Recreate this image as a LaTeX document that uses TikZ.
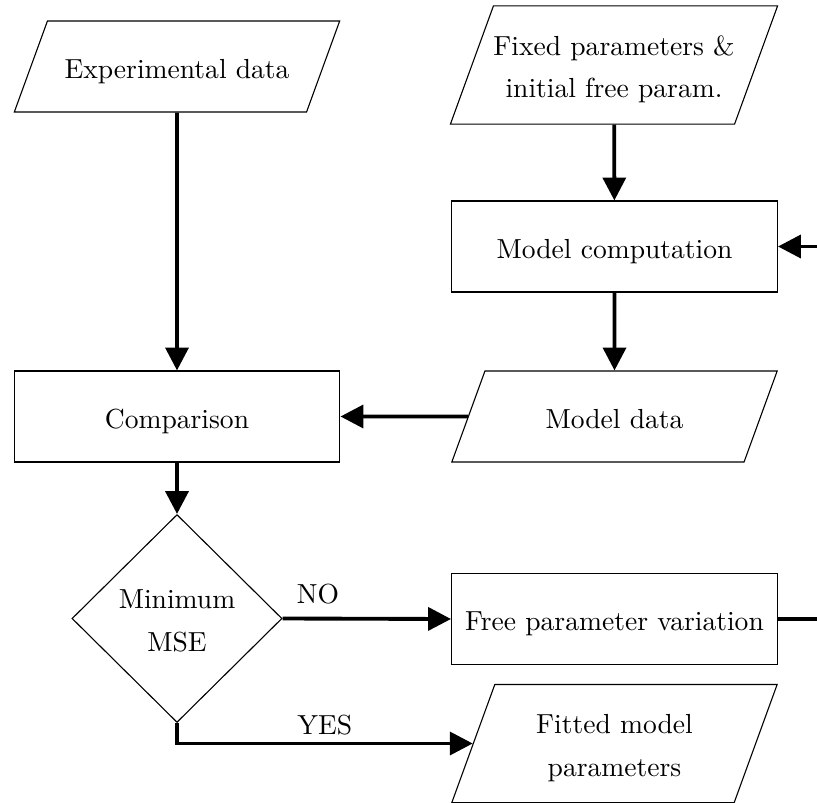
\documentclass[tikz,border=0pt]{standalone}
\usepackage{amsmath}
\usepackage{amssymb}
\usepackage{tikz}
\usetikzlibrary{arrows.meta,shapes.geometric}

\newcommand{\topline}{\rule{0pt}{10.3pt}}
\newcommand{\botline}{\rule[-1.9pt]{0pt}{1.9pt}}

\begin{document}
\begin{tikzpicture}[x=0.3627pt,y=-0.3627pt]
\tikzstyle{every node}+=[inner sep=0pt]
\tikzstyle{oneline}=[text height=10.5pt, text depth=1.9pt]
\tikzstyle{block}=[draw, rectangle, minimum width=118.2pt, minimum height=33pt, align=center]
\tikzstyle{io}=[draw, trapezium, trapezium left angle=70, trapezium right angle=110, trapezium stretches body=true, minimum width=118pt, inner ysep=10.3pt, align=center]
\tikzstyle{iotwo}=[io, inner ysep=7.55pt]
\tikzstyle{decision}=[draw, diamond, minimum width=76.2pt, minimum height=75.4pt, align=center]
\tikzstyle{flow}=[line width=1.4pt, -{Triangle[length=8.3pt,width=8.3pt]}]
\useasboundingbox (0,0) rectangle (817,803);
\node [io, oneline] (expdata) at (177,66.5) {Experimental data};
\node [iotwo] (fixed) at (614,65) {\topline Fixed parameters \&\\[3.5pt] initial free param.\botline};
\node [block, oneline] (modelcomp) at (614.5,246.5) {Model computation};
\node [block, oneline] (compare) at (177,416.5) {Comparison};
\node [io, oneline] (modeldata) at (614.5,416.5) {Model data};
\node [decision] (minmse) at (177,618.5) {\topline Minimum\\[3.5pt] MSE\botline};
\node [block, oneline] (vary) at (614.5,619) {Free parameter variation};
\node [iotwo] (fitted) at (614.5,743.5) {\topline Fitted model\\[3.5pt] parameters\botline};
\coordinate (loop) at (840,619);
\draw [flow] (expdata) -- (compare);
\draw [flow] (fixed) -- (modelcomp);
\draw [flow] (modelcomp) -- (modeldata);
\draw [flow] (modeldata.west) -- (compare.east);
\draw [flow] (compare) -- (minmse);
\draw [flow] (minmse.east) -- node [above=4.5pt, pos=0.21] (no) {NO} (vary.west);
\draw [flow] (minmse.south) |- node [above=2.5pt, pos=0.75] (yes) {YES} (fitted.west);
\draw [flow] (vary.east) -- (loop) |- (modelcomp.east);
\end{tikzpicture}
\end{document}
